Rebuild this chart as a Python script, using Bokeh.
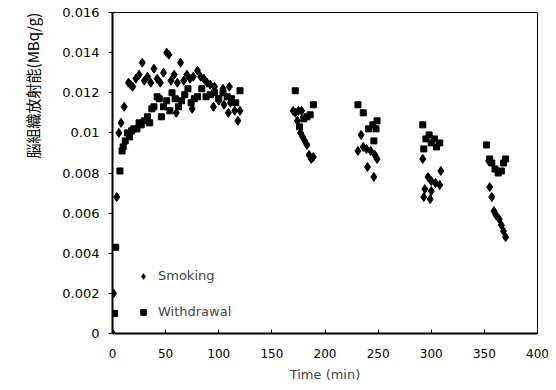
import math
from bokeh.plotting import figure
from bokeh.models import ColumnDataSource, FixedTicker, Legend, LegendItem, Title
from bokeh.embed import file_html
from bokeh.resources import INLINE

# ---- data ----
smoking_t = [0, 1, 4, 6, 8, 11, 15, 17, 19, 22, 25, 28, 30, 33, 36, 39, 42, 45, 48, 51, 53,
             55, 58, 60, 61, 64, 67, 70, 73, 75, 76, 80, 83, 86, 89, 92, 95, 96, 100, 104,
             105, 109, 110, 111, 115, 118, 120,
             170, 172, 174, 175, 177, 178, 179, 181, 183, 185, 187, 189,
             231, 234, 236, 239, 240, 243, 246, 247, 249,
             292, 293, 294, 297, 299, 300, 300, 304, 308, 309,
             354, 355, 357, 359, 361, 364, 366, 368, 370]
smoking_y = [0.0, 0.0020, 0.0068, 0.0100, 0.0105, 0.0113, 0.0125, 0.0124, 0.0123, 0.0127,
             0.0129, 0.0135, 0.0126, 0.0128, 0.0125, 0.0132, 0.0127, 0.0125, 0.0130, 0.0140,
             0.0139, 0.0126, 0.0129, 0.0110, 0.0125, 0.0135, 0.0126, 0.0129, 0.0127, 0.0112,
             0.0128, 0.0131, 0.0128, 0.0127, 0.0125, 0.0124, 0.0113, 0.0123, 0.0116, 0.0122,
             0.0114, 0.0110, 0.0123, 0.0115, 0.0111, 0.0106, 0.0111,
             0.0111, 0.0110, 0.0106, 0.0111, 0.0100, 0.0111, 0.0098, 0.0096, 0.0094, 0.0089,
             0.0087, 0.0088,
             0.0091, 0.0099, 0.0093, 0.0092, 0.0083, 0.0091, 0.0078, 0.0089, 0.0087,
             0.0087, 0.0068, 0.0072, 0.0078, 0.0067, 0.0076, 0.0071, 0.0075, 0.0074, 0.0081,
             0.0086, 0.0073, 0.0068, 0.0061, 0.0059, 0.0057, 0.0054, 0.0051, 0.0048]

withdrawal_t = [2, 3, 7, 9, 10, 12, 14, 16, 18, 20, 23, 25, 27, 30, 33, 35, 37, 39, 42, 44,
                46, 48, 51, 54, 56, 59, 62, 65, 68, 71, 74, 77, 80, 84, 88, 92, 96, 100, 104,
                108, 112, 116, 120,
                172, 176, 180, 183, 186, 189,
                231, 236, 241, 245, 246, 248, 249,
                292, 293, 295, 298, 300, 303, 305, 308,
                352, 355, 357, 360, 363, 366, 368, 370]
withdrawal_y = [0.0010, 0.0043, 0.0081, 0.0091, 0.0093, 0.0096, 0.0100, 0.0098, 0.0101, 0.0102,
                0.0102, 0.0105, 0.0104, 0.0106, 0.0108, 0.0105, 0.0112, 0.0113, 0.0118, 0.0117,
                0.0108, 0.0113, 0.0116, 0.0111, 0.0120, 0.0117, 0.0113, 0.0116, 0.0119, 0.0122,
                0.0115, 0.0117, 0.0118, 0.0122, 0.0118, 0.0119, 0.0120, 0.0117, 0.0120, 0.0118,
                0.0117, 0.0115, 0.0121,
                0.0121, 0.0103, 0.0107, 0.0108, 0.0109, 0.0114,
                0.0114, 0.0110, 0.0102, 0.0104, 0.0096, 0.0102, 0.0106,
                0.0104, 0.0092, 0.0097, 0.0099, 0.0095, 0.0097, 0.0093, 0.0095,
                0.0094, 0.0087, 0.0085, 0.0082, 0.0080, 0.0081, 0.0085, 0.0087]

x_ticks = [0, 50, 100, 150, 200, 250, 300, 350, 400]
y_ticks = [0.0, 0.002, 0.004, 0.006, 0.008, 0.01, 0.012, 0.014, 0.016]
y_tick_labels = ["0", "0.002", "0.004", "0.006", "0.008", "0.01", "0.012", "0.014", "0.016"]
series_names = ["Smoking", "Withdrawal"]
x_title = "Time (min)"
y_title = "脳組織放射能(MBq/g)"

FONT = "DejaVu Sans"

p = figure(width=556, height=390, output_backend="svg", toolbar_location=None,
           x_range=(0, 400), y_range=(0, 0.016),
           min_border_left=112, min_border_right=19, min_border_top=12, min_border_bottom=57)
p.background_fill_color = "white"
p.border_fill_color = "white"
p.grid.visible = False
p.outline_line_color = "black"
p.outline_line_width = 1

src_s = ColumnDataSource(dict(t=smoking_t, y=smoking_y))
src_w = ColumnDataSource(dict(t=withdrawal_t, y=withdrawal_y))
r_s = p.scatter("t", "y", source=src_s, marker="diamond", size=9,
                fill_color="black", line_color="black")
r_w = p.scatter("t", "y", source=src_w, marker="square", size=6,
                fill_color="black", line_color="black")

p.xaxis.ticker = FixedTicker(ticks=x_ticks)
p.yaxis.ticker = FixedTicker(ticks=y_ticks)
p.yaxis.major_label_overrides = {v: s for v, s in zip(y_ticks, y_tick_labels)}
for ax in (p.xaxis[0], p.yaxis[0]):
    ax.axis_line_color = "black"
    ax.axis_line_width = 2
    ax.major_tick_line_color = "black"
    ax.major_tick_line_width = 1
    ax.minor_tick_line_color = None
    ax.major_label_text_font = FONT
    ax.major_label_text_color = "black"
p.xaxis.major_label_text_font_size = "12px"
p.yaxis.major_label_text_font_size = "13px"
p.xaxis.major_tick_in = 4
p.xaxis.major_tick_out = 0
p.xaxis.major_label_standoff = 15
p.yaxis.major_tick_in = 0
p.yaxis.major_tick_out = 4
p.yaxis.major_label_standoff = 9

p.xaxis.axis_label = x_title
p.xaxis.axis_label_text_font = FONT
p.xaxis.axis_label_text_font_size = "13px"
p.xaxis.axis_label_text_font_style = "normal"
p.xaxis.axis_label_standoff = 6

ytitle = Title(text=y_title, align="right", standoff=30, vertical_align="top",
               text_font="Noto Sans CJK JP", text_font_size="15px",
               text_font_style="normal", text_color="black")
p.add_layout(ytitle, "left")

legend = Legend(items=[LegendItem(label=series_names[0], renderers=[r_s]),
                       LegendItem(label=series_names[1], renderers=[r_w])],
                location=(24, 14), orientation="vertical",
                padding=0, margin=0, spacing=21,
                glyph_width=14, glyph_height=14, label_height=14, label_standoff=8,
                label_text_font=FONT, label_text_font_size="13px",
                border_line_color=None, background_fill_alpha=0)
p.add_layout(legend)

open("out.html", "w").write(file_html(p, INLINE))
